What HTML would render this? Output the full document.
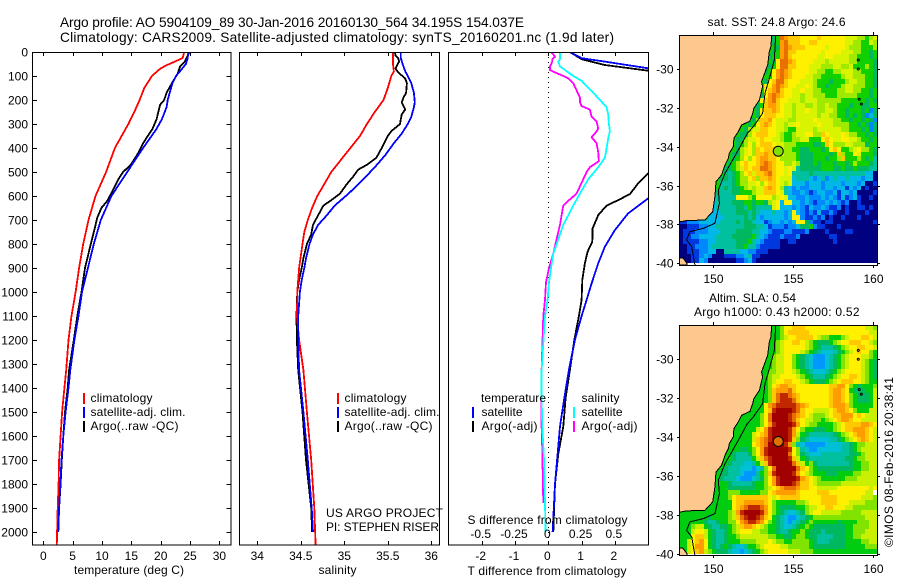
<!DOCTYPE html>
<html lang="en">
<head>
<meta charset="utf-8">
<title>Argo profile 5904109_89</title>
<style>
html,body{margin:0;padding:0;background:#fff}
svg{display:block}
text{font-family:"Liberation Sans",sans-serif;font-size:12px;fill:#000}
.t{font-size:13.7px}
.c{shape-rendering:crispEdges}
</style>
</head>
<body>
<svg id="fig" xmlns="http://www.w3.org/2000/svg" width="900" height="580" viewBox="0 0 900 580">
<defs>
<clipPath id="clip-t"><rect x="33" y="52" width="198" height="493"/></clipPath>
<clipPath id="clip-s"><rect x="240" y="52" width="199" height="493"/></clipPath>
<clipPath id="clip-d"><rect x="449" y="52" width="199" height="493"/></clipPath>
<clipPath id="clip-m1"><rect x="680" y="35" width="197" height="230"/></clipPath>
<clipPath id="clip-m2"><rect x="680" y="325" width="197" height="230"/></clipPath>
</defs>
<text class="t" x="60" y="27" textLength="464" lengthAdjust="spacing">Argo profile: AO 5904109_89 30-Jan-2016 20160130_564 34.195S 154.037E</text>
<text class="t" x="60" y="42" textLength="554" lengthAdjust="spacing">Climatology: CARS2009. Satellite-adjusted climatology: synTS_20160201.nc (1.9d later)</text>

<g id="panel-t"></g>
<g id="panel-s"></g>
<g id="panel-d"></g>
<g id="map-1"></g>
<g id="map-2"></g>

<g>
<rect class="c" x="83" y="393" width="2" height="11" fill="#f00"/>
<rect class="c" x="83" y="407" width="2" height="11" fill="#00f"/>
<rect class="c" x="83" y="421" width="2" height="11" fill="#000"/>
<text x="90.5" y="402" textLength="62">climatology</text>
<text x="90.5" y="416" textLength="95">satellite-adj. clim.</text>
<text x="90.5" y="430" textLength="88">Argo(..raw -QC)</text>
</g>
<text x="74" y="574" textLength="110">temperature (deg C)</text>

<g>
<rect class="c" x="337" y="393" width="2" height="11" fill="#f00"/>
<rect class="c" x="337" y="407" width="2" height="11" fill="#00f"/>
<rect class="c" x="337" y="421" width="2" height="11" fill="#000"/>
<text x="344.5" y="402" textLength="62">climatology</text>
<text x="344.5" y="416" textLength="95">satellite-adj. clim.</text>
<text x="344.5" y="430" textLength="88">Argo(..raw -QC)</text>
</g>
<text x="326" y="517" textLength="117">US ARGO PROJECT</text>
<text x="326" y="531" textLength="113">PI: STEPHEN RISER</text>
<text x="318.5" y="574" textLength="38">salinity</text>

<g>
<text x="481" y="402" textLength="65">temperature</text>
<rect class="c" x="472" y="407" width="2" height="11" fill="#00f"/>
<rect class="c" x="472" y="421" width="2" height="11" fill="#000"/>
<text x="481.5" y="416" textLength="41">satellite</text>
<text x="481.5" y="430" textLength="56">Argo(-adj)</text>
<text x="581.5" y="402" textLength="38">salinity</text>
<rect class="c" x="573" y="407" width="2" height="11" fill="#0ff"/>
<rect class="c" x="573" y="421" width="2" height="11" fill="#f0f"/>
<text x="581.5" y="416" textLength="41">satellite</text>
<text x="581.5" y="430" textLength="56">Argo(-adj)</text>
</g>
<text x="467.5" y="524" textLength="160">S difference from climatology</text>
<text x="467.5" y="575" textLength="159">T difference from climatology</text>

<text x="707.5" y="26" textLength="138">sat. SST: 24.8 Argo: 24.6</text>
<text x="709" y="302" textLength="87">Altim. SLA: 0.54</text>
<text x="694" y="316" textLength="165.5">Argo h1000: 0.43 h2000: 0.52</text>
<text transform="translate(893,547) rotate(-90)" x="0" y="0" textLength="170">©IMOS 08-Feb-2016 20:38:41</text>
</svg>

<script>
// ---- profile data (depth in m, temperature in deg C, salinity in psu) ----
const depthTicks = [0,100,200,300,400,500,600,700,800,900,1000,1100,1200,1300,1400,1500,1600,1700,1800,1900,2000];
const tempTicks = [0,5,10,15,20,25,30];
const salTicks = [34,34.5,35,35.5,36];
const salTickLabels = ['34','34.5','35','35.5','36'];
const diffTTicks = [-2,-1,0,1,2];
const diffTTickLabels = ['-2','-1','0','1','2'];
const diffSTicks = [-0.5,-0.25,0,0.25,0.5];
const diffSTickLabels = ['-0.5','-0.25','0','0.25','0.5'];

const tempClimDepth = [0,25,40,55,70,100,150,200,250,300,400,500,550,600,700,800,900,1000,1100,1200,1325,1400,1500,1600,1700,1800,1900,2000,2054];
const tempClim = [24.0,23.75,22.4,21.0,19.9,18.5,17.2,16.4,15.5,14.5,12.2,10.7,9.8,8.9,7.7,6.8,6.1,5.5,4.8,4.3,3.9,3.6,3.2,2.95,2.7,2.6,2.45,2.35,2.3];
const tempSatDepth = [0,25,50,80,100,130,200,230,280,320,400,500,600,700,750,800,900,1000,1100,1200,1325,1400,1500,1600,1700,1800,1900,2000];
const tempSat = [24.7,24.6,24.3,23.3,22.6,22,21.2,21.0,20.2,19.3,17.0,14.3,11.6,9.8,9.2,8.6,7.6,6.6,6,5.3,4.6,4.3,3.8,3.4,3.1,2.9,2.7,2.55];
const tempArgoDepth = [0,25,40,60,90,130,170,200,220,280,320,380,420,470,500,530,570,620,650,690,730,800,900,1000,1100,1200,1325,1400,1500,1600,1700,1800,1900,2000];
const tempArgo = [24.9,24.4,24.1,23.3,22.9,21.9,21.0,20.6,19.9,19.3,18.6,17.0,16.2,14.9,13.6,12.8,12,10.9,9.9,9.2,8.8,8.1,7.1,6.5,5.8,5.2,4.4,4.15,3.7,3.4,3.15,2.95,2.7,2.55];

const salClimDepth = [0,50,80,100,150,200,250,300,350,400,450,500,550,600,650,700,750,800,850,900,1000,1100,1200,1325,1500,1700,1900,2054];
const salClim = [35.56,35.56,35.57,35.54,35.5,35.45,35.35,35.26,35.18,35.07,34.96,34.85,34.77,34.69,34.63,34.58,34.54,34.52,34.5,34.48,34.46,34.456,34.48,34.53,34.57,34.62,34.655,34.67];
const salSatDepth = [0,25,50,80,100,130,170,210,230,270,300,340,380,430,480,530,590,640,680,720,760,800,860,900,950,1000,1100,1200,1325,1500,1700,1900,2000];
const salSat = [35.65,35.65,35.67,35.7,35.73,35.77,35.8,35.81,35.8,35.77,35.73,35.66,35.57,35.47,35.35,35.22,35.05,34.89,34.8,34.7,34.64,34.6,34.56,34.54,34.51,34.49,34.47,34.47,34.48,34.53,34.58,34.625,34.64];
const salArgoDepth = [0,15,25,40,60,70,85,110,130,170,190,210,240,260,300,330,350,400,440,470,490,520,550,590,620,640,680,720,760,800,860,900,950,1000,1100,1200,1325,1500,1700,1900,2000];
const salArgo = [35.58,35.59,35.62,35.63,35.6,35.59,35.62,35.7,35.72,35.71,35.68,35.66,35.7,35.66,35.64,35.54,35.5,35.43,35.37,35.26,35.16,35.1,35.03,34.95,34.84,34.76,34.7,34.64,34.62,34.57,34.53,34.51,34.48,34.46,34.45,34.455,34.47,34.52,34.56,34.62,34.63];

const dTSatDepth = [0,26,40,68,100,300,500,610,672,742,811,880,964,1033,1100,1200,1325,1442,1560,1675,1800,2000];
const dTSat = [0.65,1.0,1.7,3.0,4.1,5.7,3.7,3.0,2.4,2.0,1.7,1.5,1.3,1.15,1.0,0.8,0.62,0.48,0.35,0.28,0.2,0.13];
const dTArgoDepth = [0,30,54,78,100,300,505,547,592,617,640,679,735,790,832,880,950,1033,1100,1200,1325,1442,1560,1675,1800,2000];
const dTArgo = [0.65,1.0,1.7,3.0,4.4,4.8,3.0,2.7,2.45,2.1,1.75,1.5,1.33,1.32,1.18,1.1,1.02,1.0,0.92,0.78,0.65,0.52,0.45,0.3,0.2,0.15];
const dSSatDepth = [0,30,40,60,80,100,120,150,170,200,230,260,300,330,360,400,440,480,530,590,640,680,720,780,840,900,960,1033,1100,1325,1442,1560,1700,1880,2000];
const dSSat = [0.0875,0.0875,0.075,0.0875,0.1375,0.1875,0.25,0.3,0.3375,0.3875,0.4375,0.45,0.455,0.4625,0.45,0.4375,0.425,0.375,0.3,0.2375,0.1875,0.15,0.1125,0.075,0.0375,0.02,0.005,-0.005,-0.025,-0.05,-0.05,-0.045,-0.0325,-0.025,-0.02];
const dSArgoDepth = [0,10,20,30,40,60,75,85,100,110,130,160,190,210,225,240,270,290,320,340,355,380,420,455,480,500,530,560,590,620,640,680,720,780,840,900,960,1033,1100,1325,1560,1660,1880];
const dSArgo = [0.02,0.0375,0.05,0.03,0.03,0.0125,0.0125,0.05,0.1125,0.15,0.1875,0.2125,0.2375,0.2375,0.25,0.3125,0.325,0.3625,0.375,0.35,0.325,0.3625,0.375,0.38,0.3125,0.2875,0.2625,0.2375,0.2125,0.15,0.1125,0.1,0.0875,0.0625,0.0375,0.005,-0.0175,-0.025,-0.0375,-0.05,-0.05,-0.045,-0.0375];

// ---- map data: one letter per 0.25 degree cell (colour class), north to south ----
const sstRows = [
".......................fgmlkkkjjjjkjjjjjjiiihhghi",
".......................fglmkkkjjkkjjjjjjjiihhggih",
".......................gflmlkkkjjjjjijjjjihhhgggh",
"......................gfglmkkjjjjjjijjjjiiihhggfg",
"......................fgglmkjjjjjjiijjiiiihhgggfg",
"......................gfjmmlkjjjjiiihiiiiihhggggf",
".....................gfgjmmkkjjjiiihhhiihhiggghgf",
".....................fgjlmlkjjjjiihhgghhiiihhgggf",
".....................ggjlmlkjjjiihhggggghiihhhggf",
"....................gfjkmmkjjjiiihgggfggghiihhggf",
"....................gjjlmlkjjiijihggfggghiihhhggf",
"....................gjklmkjjiijiihhgggghhiihhggfg",
"...................gfjlmlkjjiihiihhhggghhhhhgggfg",
"...................gjklmkjjiiihiiihhhhhhggggggfgf",
"..................gfgkllkjiihiihhihhihhgggfggffgg",
"..................gfjkklkjiihiijiihhiihggfgggfgcf",
".................ggfjkkkjjiihiiiiihiihhggfgfgfcdf",
".................gfhkkljiiihhiiiijiiiihhggfggfgfc",
"................gfgjklkjiihiijiiiijiiihhhhggfgfcf",
"...............gfhiikkjjiihggiiiihiiiiiihhgggfgcf",
"..............gffhjkkkjjihgghiijjhhkjiiijihhggfgf",
".............gffhiijkjjiihgghhiigggjkjiijjiihggfg",
".............gfghjhjkkkjiihhhggggffgkjhhhiihhhfgg",
".............gfhijhkjkkkjihhggffgggfgjkjgghijhhgf",
"............gffhijhkklkkjihhhgfffggggfgkhggjigggf",
"............gfghjhjkllkkjhhhhgfffgggfgghkggghgfge",
"...........gfghjkjjklmlkjjhhihfffgfgggfggfghgggfe",
"...........ffghikjkkmmlkjjijiefffffgggffgffgfffee",
"..........gfefghjkikklmkjjijeeeefeeeeeeeeeeeeedda",
"..........ffefghhjkhkklkjiiideeedcdecdeddedddcdda",
".........geeefghhiijhjkkjihidddcdddcddddcdddcdaab",
".........gefeffghihiiklkjhedcdccdddcddcddbdcdabaa",
".........feeeffggghiikkkjiedccdcbcddccdbddcdaaaab",
".........eeeeejjjhgjjjjhijiddccdcccdcdcbdbcdbaaba",
"........deeeefffggfggfhijdjjddcdcbccdcdcbcaabaaaa",
"........deeeeeffegfeeeeijdddcdcbdccdcbbcabaabbaba",
".......dddeeeefffefedddeddcdjdcbcbdbbcbaabaaaabaa",
".......ddddeeeeefefdcdddddcdjjcbbcbcabaabaaabaaaa",
"bbcccdddddeeeefeffeddbcddcdcdjjfcbbabbaaaaaaaaaab",
"aabbbccddeeeeeeefffeedbcccbccdffgcbbaaabaaaaaaaaa",
"abbbcccdddeeeeffffeeddcbbbccbbbcaaaabaaaabbaaaaaa",
"abbccddddeeeefffffgedcbbbcbbbcaaaaaaabbaaaaaaaaaa",
"abbbbccddeeeeefffgedcbbbbaabbaaaaaaaaabaaaaaaaaaa",
"aabbcccdeeeeeeffgeecbbbbbaaaaaaaaaaaaaaaaaaaaaaaa",
"aabbbccddaaeeeeddccbbbaaaaaaaaaaaaaaaaaaaaaaaaaaa",
"aaabbcdcaaabbbccdebbaaaaaaaaaaaaaaaaaaaaaaaaaaaaa",
"aaabbdcaaaaaaabbcdbaaaaaaaaaaaaaaaaaaaaaaaaaaaaaa"
];
const slaRows = [
".......................gghjjkkkjjjjjjjjjjjjjjjiih",
".......................gghjkkkkkjjjjjjjjjjjjjjjiih",
".......................gghijjkkkkjihhggghijjjkkjih",
"......................gghijjkkjihgfffghijjkkkjjih",
"......................gghijjjjjihgfeeefghijjkkjjig",
"......................gghijjjjihgfedddefghijkjjhg",
".....................gghiijjhgfedcccdefghijjjiihg",
".....................gghiijjhgfedcccdefghijjjihgf",
".....................gghiijjhgfedcccdefghijjjihgf",
".....................ghhiijjihgfedddefghijjjjihgf",
"....................gghiijjjjihgfeeefghijjkkjihgf",
"....................gghijjkkjjihgfffghijkkkjjihgg",
"...................ggghjkllkkjjjjjjjjkklljhgfgggh",
"....................gghklllmkjjjjjjjjkllkjgfffggi",
"...................ggghkmnnmlkjjjjjjjkllkjhgfffgi",
"..................gggghkmnnnmkjjjjjjjkllkjhgfffgi",
"..................gggjlmnnnnnmlkjjjjjklllkhgggggi",
".................ggggjknoooonmkjjiiiijkllkjhgggii",
"................gggghjmoooonmlkjihhhijkkllljkjiiii",
"...............ggggghjmoooonmkjiihhghijkllkjjiiii",
"..............gggggghjlnoooonljihhgggghijkkkkllkjj",
".............ggggggijlnoooonljhggfffgghijkklllkji",
".............gggggijklnoooonligfeeeeeefghijkllkji",
"............ggggggiklmnoooonkhfedddddeefghijklkji",
"............ggggggjklmoooonlhedcccccddddeefghhiii",
"...........ggggffghjlnooooonjhedccddddddeefghiiii",
"...........ggfeeefhjlnooooomjhfedddeeeeeeeffghiii",
"..........gggfeeeegikmnoooonkigfeeeeeeeeeffghhiii",
"..........ggfeeeddegiknooooomkighfeeeeeeeefgghhii",
"..........gfeeedddcdehjmooooomkjhgfffffffffgghhii",
".........gffeeedccceghknoooonljihgggfffgggghhiiii",
".........gfeeedcccdefhjlnoooonlkjihgggggghhhiiiii",
".........gggfeeeeefgghjlnooonmkkjihhhhhhiiiiiiiii",
".........gggfffffffgghijklmmmlkkjjiiiiijjjjjjjjij",
"........gggghhhggggghhjklllllkjjjjkkkjjjjjjjjjii",
"........gggghjkkkkkkkkjijkkkkkjjjjjkkkkjjjjjjiiih",
".......ggggggjkklllllkjhggggghhijjjkkkkjjjiiiihhh",
".......ggggggjklmnnnmljhgffffgghiijjkkjjjiihhhhhh",
"gggggggggggghilnoooonljhgfeddefhijjiiiiihhhhhiiii",
"gggggggfgggghikmnoonmkjgfedccdefghhhhhhhhhhhhhiii",
"ggggggfeefgghhjlmnnmljhgfedcdefghggggggfgggghhhii",
"ggghiigfeeffghikllkjihggfeddefghgffffffffgghhhhii",
"gggijjigfeefghijjjiihhggfeefgghgfffefffffgghhhiii",
"gggjkkigfeefgghiiiiiiihhggffghhgffeeeefffgghhiiii",
"ggijkljgfeefggghhhhiiijihhgghhhhgfeeeffffgggghhii",
"ggijlljgfefgfeddegghijjjjiihhhhhgffffffffggggghhh",
"ggijklihgfffeddcdefghijjjjjiiihhhgggggggggggggggg"
];
const coastLon = [153.65,153.6,153.5,153.4,153.13,153.02,153.08,152.88,152.54,152.46,152.29,151.77,151.56,151.29,151.25,151,150.94,150.73,150.52,150.17,150.1,149.96,149.48,148.33,147.88,147.88];
const coastLat = [-28.25,-28.85,-29.11,-29.79,-30.39,-30.65,-30.91,-31.6,-32.02,-32.28,-32.68,-32.88,-33.22,-33.57,-34,-34.34,-34.6,-34.94,-35.45,-35.8,-36.57,-37.34,-37.77,-37.8,-37.87,-28.25];
const isoLon = [153.9,153.81,153.54,153.23,153.08,152.5,152.13,151.56,151.15,150.73,150.31,150.38,150.1,149.38,148.54,148.33,148.65,148.85];
const isoLat = [-28.25,-29.54,-30.39,-31.25,-32.28,-32.97,-33.31,-34.17,-34.77,-35.37,-36.23,-36.91,-37.94,-38.2,-38.37,-38.8,-39.14,-40.09];
const islandLon = [147.88,148.1,148.35,148.35,147.88];
const islandLat = [-39.72,-39.72,-40.0,-40.09,-40.09];
const isletLon = [159.06,159.06,159.12,159.25];
const isletLat = [-29.54,-30.0,-31.56,-31.8];
const lonTicks = [150,155,160];
const latTicks = [-30,-32,-34,-36,-38,-40];
const argoLon = 154.06;
const argoLat = -34.23;
const argoSstColor = '#80e000';
const argoSlaColor = '#e07000';

const slaPalette = {a:'#000080',b:'#0030d8',c:'#0098ff',d:'#00c0d8',e:'#00c0a0',f:'#00b860',g:'#00cc10',h:'#80e400',i:'#c8f000',j:'#fff000',k:'#ffc800',l:'#ff9c00',m:'#e87000',n:'#c02800',o:'#a00000','.':'#00cc10'};
const sstPalette = {a:'#000080',b:'#0038e0',c:'#0088ff',d:'#00b8e8',e:'#00c0a0',f:'#00b860',g:'#10d000',h:'#a0ea00',i:'#d8f400',j:'#fff000',k:'#ffc800',l:'#ff9c00',m:'#e87000',n:'#c02800',o:'#a00000','.':'#10d000'};

// ---- axis functions ----
const xT = v => 43.3 + v * 5.87;
const xS = v => 257.3 + (v - 34) * 87;
const xDT = v => 548.3 + v * 33.3;
const xDS = v => 548.3 + v * 133.2;
const yD = d => 52 + d * 0.24;
const xLon = lon => 713.3 + (lon - 150) * 16;
const yLat1 = lat => 69 + (-30 - lat) * 19.43;
const yLat2 = lat => 359.3 + (-30 - lat) * 19.43;

const NS = 'http://www.w3.org/2000/svg';
function mk(tag, parent) {
  const el = document.createElementNS(NS, tag);
  parent.appendChild(el);
  return el;
}
function drawSeries(parent, depth, vals, xf, color, clip, name) {
  const el = mk('polyline', parent);
  
  
  el.setAttribute('points', depth.map((d, i) => xf(vals[i]).toFixed(1) + ',' + yD(d).toFixed(1)).join(' '));
  el.setAttribute('fill', 'none');
  el.setAttribute('stroke', color);
  el.setAttribute('stroke-width', '1.8');
  el.setAttribute('class', 'c');
  el.setAttribute('clip-path', 'url(#' + clip + ')');
}
function drawLabel(parent, x, y, str, anchor) {
  const el = mk('text', parent);
  
  
  el.setAttribute('x', x);
  el.setAttribute('y', y);
  el.setAttribute('text-anchor', anchor);
  el.textContent = str;
}
function drawLine(parent, x1, y1, x2, y2) {
  const el = mk('line', parent);
  
  
  el.setAttribute('x1', x1);
  el.setAttribute('y1', y1);
  el.setAttribute('x2', x2);
  el.setAttribute('y2', y2);
  el.setAttribute('stroke', '#000');
  el.setAttribute('class', 'c');
}
function drawFrame(parent, x, y, w, h, name) {
  const el = mk('rect', parent);
  
  
  el.setAttribute('x', x);
  el.setAttribute('y', y);
  el.setAttribute('width', w);
  el.setAttribute('height', h);
  el.setAttribute('fill', 'none');
  el.setAttribute('stroke', '#000');
  el.setAttribute('class', 'c');
}
function xTicks(parent, ticks, xf) {
  ticks.forEach(v => {
    const x = Math.round(xf(v)) + 0.5;
    drawLine(parent, x, 52, x, 56);
    drawLine(parent, x, 545, x, 541);
  });
}

// ---- temperature panel ----
const pT = document.getElementById('panel-t');
drawSeries(pT, tempArgoDepth, tempArgo, xT, '#000', 'clip-t', 'argo-temperature-line');
drawSeries(pT, tempClimDepth, tempClim, xT, '#f00', 'clip-t', 'climatology-temperature-line');
drawSeries(pT, tempSatDepth, tempSat, xT, '#00f', 'clip-t', 'satellite-temperature-line');
drawFrame(pT, 32.5, 52.5, 198.5, 492.5, 'temperature-plot-frame');
xTicks(pT, tempTicks, xT);
tempTicks.forEach(v => drawLabel(pT, xT(v), 560, String(v), 'middle'));
depthTicks.forEach(d => {
  const y = Math.round(yD(d)) + 0.5;
  drawLine(pT, 32.5, y, 37, y);
  drawLine(pT, 231, y, 226.5, y);
  drawLabel(pT, 28, yD(d) + 4.5, String(d), 'end');
});

// ---- salinity panel ----
const pS = document.getElementById('panel-s');
drawSeries(pS, salArgoDepth, salArgo, xS, '#000', 'clip-s', 'argo-salinity-line');
drawSeries(pS, salClimDepth, salClim, xS, '#f00', 'clip-s', 'climatology-salinity-line');
drawSeries(pS, salSatDepth, salSat, xS, '#00f', 'clip-s', 'satellite-salinity-line');
drawFrame(pS, 239.5, 52.5, 200, 492.5, 'salinity-plot-frame');
xTicks(pS, salTicks, xS);
salTicks.forEach((v, i) => drawLabel(pS, xS(v), 560, salTickLabels[i], 'middle'));

// ---- difference panel ----
const pD = document.getElementById('panel-d');
const zeroLine = mk('line', pD);


zeroLine.setAttribute('x1', 548.5);
zeroLine.setAttribute('x2', 548.5);
zeroLine.setAttribute('y1', 52);
zeroLine.setAttribute('y2', 545);
zeroLine.setAttribute('stroke', '#000');
zeroLine.setAttribute('stroke-dasharray', '1 4');
zeroLine.setAttribute('class', 'c');
drawSeries(pD, dTArgoDepth, dTArgo, xDT, '#000', 'clip-d', 'argo-temperature-difference-line');
drawSeries(pD, dTSatDepth, dTSat, xDT, '#00f', 'clip-d', 'satellite-temperature-difference-line');
drawSeries(pD, dSArgoDepth, dSArgo, xDS, '#f0f', 'clip-d', 'argo-salinity-difference-line');
drawSeries(pD, dSSatDepth, dSSat, xDS, '#0ff', 'clip-d', 'satellite-salinity-difference-line');
drawFrame(pD, 448.5, 52.5, 200, 492.5, 'difference-plot-frame');
xTicks(pD, diffTTicks, xDT);
diffTTicks.forEach((v, i) => drawLabel(pD, xDT(v) - 1, 560, diffTTickLabels[i], 'middle'));
diffSTicks.forEach((v, i) => drawLabel(pD, xDS(v) - 1, 538, diffSTickLabels[i], 'middle'));

// ---- maps ----
function drawMap(id, rows, palette, yLat, clip, frameTop, frameH, dotColor, mapName) {
  const g = document.getElementById(id);
  const grid = mk('g', g);
  
  
  grid.setAttribute('clip-path', 'url(#' + clip + ')');
  const dLon = 0.2525, dLat = 0.25;
  rows.forEach((row, r) => {
    const lat = -28.25 - r * dLat;
    for (let c = 0; c < row.length && c < 49; c++) {
      const lon = 147.875 + c * dLon;
      const x0 = Math.round(xLon(lon)), x1 = Math.round(xLon(lon + dLon));
      const y0 = Math.round(yLat(lat)), y1 = Math.round(yLat(lat - dLat));
      const cell = mk('rect', grid);
      
      
      cell.setAttribute('x', x0);
      cell.setAttribute('y', y0);
      cell.setAttribute('width', x1 - x0);
      cell.setAttribute('height', y1 - y0);
      cell.setAttribute('fill', palette[row[c]] || '#fff');
      cell.setAttribute('class', 'c');
    }
  });
  const land = mk('polygon', g);
  
  
  land.setAttribute('points', coastLon.map((v, i) => xLon(v).toFixed(1) + ',' + yLat(coastLat[i]).toFixed(1)).join(' '));
  land.setAttribute('fill', '#fcc88e');
  land.setAttribute('stroke', '#000');
  land.setAttribute('class', 'c');
  land.setAttribute('clip-path', 'url(#' + clip + ')');
  const island = mk('polygon', g);
  
  
  island.setAttribute('points', islandLon.map((v, i) => xLon(v).toFixed(1) + ',' + yLat(islandLat[i]).toFixed(1)).join(' '));
  island.setAttribute('fill', '#fcc88e');
  island.setAttribute('stroke', '#000');
  island.setAttribute('class', 'c');
  island.setAttribute('clip-path', 'url(#' + clip + ')');
  const iso = mk('polyline', g);
  
  
  iso.setAttribute('points', isoLon.map((v, i) => xLon(v).toFixed(1) + ',' + yLat(isoLat[i]).toFixed(1)).join(' '));
  iso.setAttribute('fill', 'none');
  iso.setAttribute('stroke', '#000');
  iso.setAttribute('class', 'c');
  iso.setAttribute('clip-path', 'url(#' + clip + ')');
  isletLon.forEach((v, i) => {
    const islet = mk('circle', g);
    
    
    islet.setAttribute('cx', xLon(v));
    islet.setAttribute('cy', yLat(isletLat[i]));
    islet.setAttribute('r', 1);
    islet.setAttribute('fill', 'none');
    islet.setAttribute('stroke', '#000');
  });
  drawFrame(g, 679.5, frameTop + 0.5, 198, frameH, mapName + '-frame');
  const dot = mk('circle', g);
  
  
  dot.setAttribute('cx', xLon(argoLon));
  dot.setAttribute('cy', yLat(argoLat));
  dot.setAttribute('r', 5);
  dot.setAttribute('fill', dotColor);
  dot.setAttribute('stroke', '#000');
  lonTicks.forEach(v => {
    const x = Math.round(xLon(v)) + 0.5;
    drawLine(g, x, frameTop, x, frameTop - 3);
    drawLine(g, x, frameTop + frameH, x, frameTop + frameH + 3);
    drawLabel(g, x, frameTop + frameH + 18, String(v), 'middle');
  });
  latTicks.forEach(v => {
    const y = Math.round(yLat(v)) + 0.5;
    drawLine(g, 679.5, y, 677, y);
    drawLine(g, 877.5, y, 880, y);
    drawLabel(g, 673.5, y + 4, String(v), 'end');
  });
}
drawMap('map-1', sstRows, sstPalette, yLat1, 'clip-m1', 35, 230, argoSstColor, 'sst-map');
drawMap('map-2', slaRows, slaPalette, yLat2, 'clip-m2', 325, 230, argoSlaColor, 'sla-map');
</script>
</body>
</html>
